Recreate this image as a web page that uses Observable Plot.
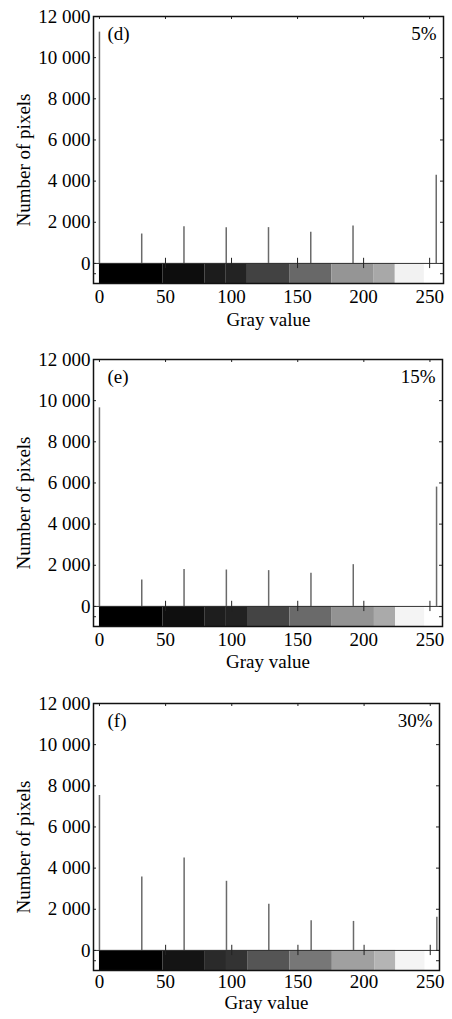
<!DOCTYPE html>
<html>
<head>
<meta charset="utf-8">
<script src="https://cdn.jsdelivr.net/npm/d3@7"></script>
<script src="https://cdn.jsdelivr.net/npm/@observablehq/plot@0.6"></script>
<style>
  html, body { margin: 0; padding: 0; background: #fff; }
  #charts svg { display: block; }
</style>
</head>
<body>
<div id="charts"></div>
<script>
// ---- data ----
const grayLevels = [0, 32, 64, 96, 128, 160, 192, 255];
const countsD = [11240, 1430, 1780, 1740, 1740, 1510, 1820, 4280];
const countsE = [9650, 1280, 1790, 1770, 1740, 1610, 2030, 5800];
const countsF = [7530, 3570, 4490, 3360, 2240, 1440, 1410, 1610];

const segStart = [0, 48, 80, 96, 112, 144, 176, 208, 224];
const segEnd   = [48, 80, 96, 112, 144, 176, 208, 224, 246];
const shadesD = ["#000000", "#0d0d0d", "#1c1c1c", "#232323", "#424242", "#686868", "#959595", "#a8a8a8", "#f2f2f2"];
const shadesE = ["#000000", "#0f0f0f", "#1e1e1e", "#222222", "#444444", "#6a6a6a", "#939393", "#aaaaaa", "#f4f4f4"];
const shadesF = ["#000000", "#141414", "#2a2a2a", "#333333", "#555555", "#777777", "#a0a0a0", "#b4b4b4", "#f4f4f4"];

const panelTags = ["(d)", "(e)", "(f)"];
const noiseLevels = ["5%", "15%", "30%"];

const yTicks = [0, 2000, 4000, 6000, 8000, 10000, 12000];
const xTicks = [0, 50, 100, 150, 200, 250];
const sideTicks = [-500, 0, 2000, 4000, 6000, 8000, 10000, 12000];
const xLabel = "Gray value";
const yLabel = "Number of pixels";

// ---- layout per panel ----
const layouts = [
  {height: 340, top: 16, bottom: 57, right: 9,  xmax: 260.5, xlab: 42,   pad: 6},
  {height: 340, top: 19, bottom: 54, right: 10, xmax: 259.5, xlab: 41.5, pad: 6},
  {height: 339, top: 23, bottom: 49, right: 13, xmax: 257,   xlab: 38.5, pad: 4}
];
const countsAll = [countsD, countsE, countsF];
const shadesAll = [shadesD, shadesE, shadesF];

const fmt = d => d3.format(",")(d).replace(",", " ");
const FONT = "Liberation Serif, serif";
const FS = 19;

const container = document.getElementById("charts");

countsAll.forEach((counts, i) => {
  const L = layouts[i];
  const frameH = L.height - L.top - L.bottom;
  const frameW = 452 - 93 - L.right;
  const spikes = grayLevels.map((g, k) => ({gray: g, count: counts[k]}));
  const segs = segStart.map((s, k) => ({x1: s, x2: segEnd[k], fill: shadesAll[i][k]}));

  const chart = Plot.plot({
    width: 452,
    height: L.height,
    marginLeft: 93,
    marginRight: L.right,
    marginTop: L.top,
    marginBottom: L.bottom,
    style: {fontFamily: FONT, fontSize: FS + "px", color: "#000", background: "#fff"},
    x: {domain: [-4.5, L.xmax]},
    y: {domain: [-975, 12000]},
    marks: [
      // gray-level colour bar
      Plot.rect(segs, {x1: "x1", x2: "x2", y1: 0, y2: -975, fill: d => d.fill}),
      // histogram spikes
      Plot.ruleX(spikes, {x: "gray", y1: 0, y2: "count", stroke: "#6a6a6a", strokeWidth: 1.5}),
      // zero line
      Plot.ruleY([0], {stroke: "#333", strokeWidth: 1}),
      // ticks at the zero line
      Plot.ruleX(xTicks.slice(1), {x: d => d, y1: -250, y2: 250, stroke: "#222", strokeWidth: 1}),
      // inner ticks on the top edge
      Plot.ruleX(xTicks, {x: d => d, insetBottom: frameH - 3, stroke: "#222", strokeWidth: 1}),
      // inner ticks on left and right edges
      Plot.ruleY(sideTicks, {y: d => d, insetRight: frameW - 3, stroke: "#222", strokeWidth: 1}),
      Plot.ruleY(sideTicks, {y: d => d, insetLeft: frameW - 3, stroke: "#222", strokeWidth: 1}),
      Plot.frame({stroke: "#111", strokeWidth: 1.5}),
      Plot.axisX({ticks: xTicks, tickSize: 0, tickPadding: L.pad, tickFormat: d => String(d), label: null, fontSize: FS}),
      Plot.axisY({ticks: yTicks, tickSize: 0, tickPadding: 3, tickFormat: fmt, label: null, fontSize: FS}),
      // axis titles
      Plot.text([xLabel], {frameAnchor: "bottom", dy: L.xlab, text: d => d, fontSize: FS, textAnchor: "middle", letterSpacing: 1.1, wordSpacing: 5}),
      Plot.text([yLabel], {frameAnchor: "left", dx: -70, dy: 10, rotate: -90, text: d => d, fontSize: FS, textAnchor: "middle", letterSpacing: 0.5, wordSpacing: 3}),
      // panel annotations
      Plot.text([panelTags[i]], {frameAnchor: "top-left", dx: 14, dy: 17, text: d => d, fontSize: FS, textAnchor: "start", lineAnchor: "middle"}),
      Plot.text([noiseLevels[i]], {frameAnchor: "top-right", dx: -7, dy: 17, text: d => d, fontSize: FS, textAnchor: "end", lineAnchor: "middle"})
    ]
  });
  container.appendChild(chart);
});
</script>
</body>
</html>
